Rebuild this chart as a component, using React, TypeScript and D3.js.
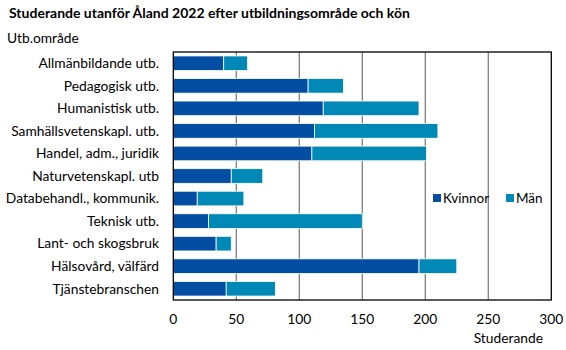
import React from "react";
import * as d3 from "d3";

const categories = [
  "Allmänbildande utb.",
  "Pedagogisk utb.",
  "Humanistisk utb.",
  "Samhällsvetenskapl. utb.",
  "Handel, adm., juridik",
  "Naturvetenskapl. utb",
  "Databehandl., kommunik.",
  "Teknisk utb.",
  "Lant- och skogsbruk",
  "Hälsovård, välfärd",
  "Tjänstebranschen",
];
const kvinnor = [40, 107, 119, 112, 110, 46, 19, 28, 34, 195, 42];
const man = [19, 28, 76, 98, 91, 25, 37, 122, 12, 30, 39];
const seriesNames = ["Kvinnor", "Män"];
const xTicks = [0, 50, 100, 150, 200, 250, 300];

const colors = ["#034ea2", "#0089b6"];
const FONT = "Lato, 'Liberation Sans', sans-serif";

export default function App() {
  const W = 566, H = 350;
  const left = 173.3, right = 551.3, top = 52, bottom = 300;
  const x = d3.scaleLinear().domain([0, 300]).range([left, right]);
  const y = d3.scaleBand().domain(categories).range([top, bottom]).paddingInner(0.35).paddingOuter(0.175);
  const stacked = d3.stack<any>().keys(["k", "m"])(categories.map((c, i) => ({ c, k: kvinnor[i], m: man[i] })));

  return (
    <svg width={W} height={H} style={{ position: "absolute", left: 0, top: 0, fontFamily: FONT }}>
      <rect width={W} height={H} fill="#fff" />
      <text x={9} y={18} fontSize={14} fontWeight="bold" fill="#000">
        Studerande utanför Åland 2022 efter utbildningsområde och kön
      </text>
      <text x={7} y={43} fontSize={13.8} fill="#000">Utb.område</text>
      {xTicks.filter(t => t > 0 && t < 300).map(t => (
        <line key={t} x1={x(t)} x2={x(t)} y1={top} y2={bottom} stroke="#808080" strokeWidth={1.3} />
      ))}
      {stacked.map((s, si) =>
        s.map((d, i) => (
          <rect key={si + "-" + i} x={x(d[0])} y={y(categories[i])!} width={x(d[1]) - x(d[0])}
            height={y.bandwidth()} fill={colors[si]} stroke="#fff" strokeWidth={0.8} />
        ))
      )}
      <rect x={left} y={top} width={right - left} height={bottom - top} fill="none" stroke="#000" strokeWidth={1.3} />
      {categories.map(c => (
        <text key={c} x={159} y={y(c)! + y.bandwidth() / 2} dy="0.35em" textAnchor="end" fontSize={13.8} fill="#000">{c}</text>
      ))}
      {xTicks.map(t => (
        <text key={t} x={x(t)} y={324} textAnchor="middle" fontSize={13.8} fill="#000">{t}</text>
      ))}
      <text x={543} y={343} textAnchor="end" fontSize={13.8} fill="#000">Studerande</text>
      {seriesNames.map((n, i) => (
        <g key={n} transform={`translate(${[433, 506][i]},0)`}>
          <rect x={0} y={194} width={8} height={8} fill={colors[i]} />
          <text x={10} y={198} dy="0.35em" fontSize={13.5} fill="#000">{n}</text>
        </g>
      ))}
    </svg>
  );
}
